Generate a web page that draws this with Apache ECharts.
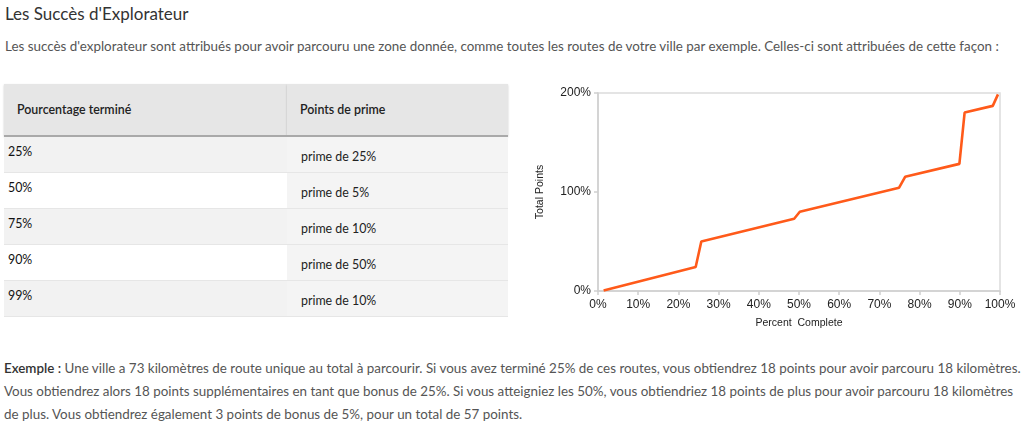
<!DOCTYPE html>
<html><head><meta charset="utf-8">
<script src="https://cdn.jsdelivr.net/npm/echarts@6/dist/echarts.min.js"></script>
<style>
html,body{margin:0;padding:0;background:#fff;width:1024px;height:427px;overflow:hidden;font-family:Lato,"Open Sans",sans-serif;}
#title{position:absolute;left:5px;top:3px;font-size:17px;color:#333;}
#intro{position:absolute;left:5px;top:38px;font-size:13.4px;color:#555;white-space:nowrap;}
#tbl{position:absolute;left:4px;top:84px;width:504px;border-collapse:collapse;font-size:12.4px;color:#222;}
#tbl th{background:#e6e6e6;height:51px;text-align:left;font-weight:600;padding:0 0 0 13px;border-bottom:2px solid #a9a9a9;box-shadow:0 1px 2px rgba(0,0,0,.2);color:#222;}
#tbl td{height:35px;padding:0;border-bottom:1px solid #e6e6e6;}
#tbl td.c1{vertical-align:top;padding:7px 0 0 4px;height:28px;color:#111;}
#tbl td.c2{vertical-align:middle;padding:4px 0 0 14px;height:31px;background:#f4f4f4;}
#tbl tr.odd td.c1{background:#f2f2f2;}
#tbl tr.even td.c1{background:#fff;}
#chart{position:absolute;left:520px;top:75px;width:504px;height:270px;}
#ex{position:absolute;left:4px;top:357px;font-size:13.4px;color:#555;line-height:23px;white-space:nowrap;}
#ex b{color:#333;font-weight:600;}
</style></head>
<body>
<div id="title"></div>
<div id="intro"></div>
<table id="tbl"><thead><tr><th id="h1" style="width:270px"></th><th id="h2"></th></tr></thead><tbody id="tb"></tbody></table>
<div id="chart"></div>
<div id="ex"></div>
<script>
var titleText = "Les Succès d'Explorateur";
var introText = "Les succès d'explorateur sont attribués pour avoir parcouru une zone donnée, comme toutes les routes de votre ville par exemple. Celles-ci sont attribuées de cette façon :";
var tableHeaders = ["Pourcentage terminé", "Points de prime"];
var tableThresholds = ["25%", "50%", "75%", "90%", "99%"];
var tableBonuses = ["prime de 25%", "prime de 5%", "prime de 10%", "prime de 50%", "prime de 10%"];
var exampleLabel = "Exemple :";
var exampleLines = [
  " Une ville a 73 kilomètres de route unique au total à parcourir. Si vous avez terminé 25% de ces routes, vous obtiendrez 18 points pour avoir parcouru 18 kilomètres.",
  "Vous obtiendrez alors 18 points supplémentaires en tant que bonus de 25%. Si vous atteigniez les 50%, vous obtiendriez 18 points de plus pour avoir parcouru 18 kilomètres",
  "de plus. Vous obtiendrez également 3 points de bonus de 5%, pour un total de 57 points."
];
var percentComplete = [1.4, 24.3, 25.7, 48.8, 50.2, 74.9, 76.4, 89.9, 91.2, 98.2, 99.5];
var totalPoints = [0.5, 24.2, 50, 73, 80, 104.3, 115.3, 128.4, 180.2, 187, 198.6];
var xAxisName = "Percent  Complete";
var yAxisName = "Total Points";

document.getElementById('title').textContent = titleText;
document.getElementById('intro').textContent = introText;
document.getElementById('h1').textContent = tableHeaders[0];
document.getElementById('h2').textContent = tableHeaders[1];
var tb = document.getElementById('tb');
tableThresholds.forEach(function(t, i){
  var tr = document.createElement('tr');
  tr.className = (i % 2 === 0) ? 'odd' : 'even';
  var a = document.createElement('td'); a.className = 'c1'; a.textContent = t;
  var b = document.createElement('td'); b.className = 'c2'; b.textContent = tableBonuses[i];
  tr.appendChild(a); tr.appendChild(b); tb.appendChild(tr);
});
var ex = document.getElementById('ex');
var bEl = document.createElement('b'); bEl.textContent = exampleLabel; ex.appendChild(bEl);
exampleLines.forEach(function(l, i){
  if (i > 0) ex.appendChild(document.createElement('br'));
  ex.appendChild(document.createTextNode(l));
});

var chart = echarts.init(document.getElementById('chart'), null, {renderer: 'canvas'});
var lbl = {color: '#222', fontSize: 12, fontFamily: 'Liberation Sans, Arial, sans-serif'};
chart.setOption({
  animation: false,
  grid: {left: 78, right: 24, top: 18, bottom: 54, show: true, borderColor: '#dcdcdc', borderWidth: 1.5, backgroundColor: 'transparent'},
  xAxis: {
    type: 'value', min: 0, max: 100, interval: 10,
    name: xAxisName, nameLocation: 'middle', nameGap: 27,
    nameTextStyle: {color: '#222', fontSize: 10.5, fontFamily: 'Liberation Sans, Arial, sans-serif'},
    axisLine: {show: true, lineStyle: {color: '#cfcfcf', width: 1.5}},
    axisTick: {show: true, length: 4, lineStyle: {color: '#cfcfcf', width: 1.5}},
    axisLabel: Object.assign({formatter: '{value}%', margin: 8}, lbl),
    splitLine: {show: false}
  },
  yAxis: {
    type: 'value', min: 0, max: 200, interval: 100,
    name: yAxisName, nameLocation: 'middle', nameGap: 52, nameRotate: 90,
    nameTextStyle: {color: '#222', fontSize: 10.5, fontFamily: 'Liberation Sans, Arial, sans-serif'},
    axisLine: {show: true, lineStyle: {color: '#cfcfcf', width: 1.5}},
    axisTick: {show: true, length: 4, lineStyle: {color: '#cfcfcf', width: 1.5}},
    axisLabel: Object.assign({formatter: '{value}%', margin: 7}, lbl),
    splitLine: {show: false}
  },
  series: [{
    type: 'line',
    data: percentComplete.map(function(x, i){ return [x, totalPoints[i]]; }),
    showSymbol: false,
    lineStyle: {color: '#ff5a1a', width: 2.6},
    itemStyle: {color: '#ff5a1a'}
  }]
});
</script>
</body></html>
